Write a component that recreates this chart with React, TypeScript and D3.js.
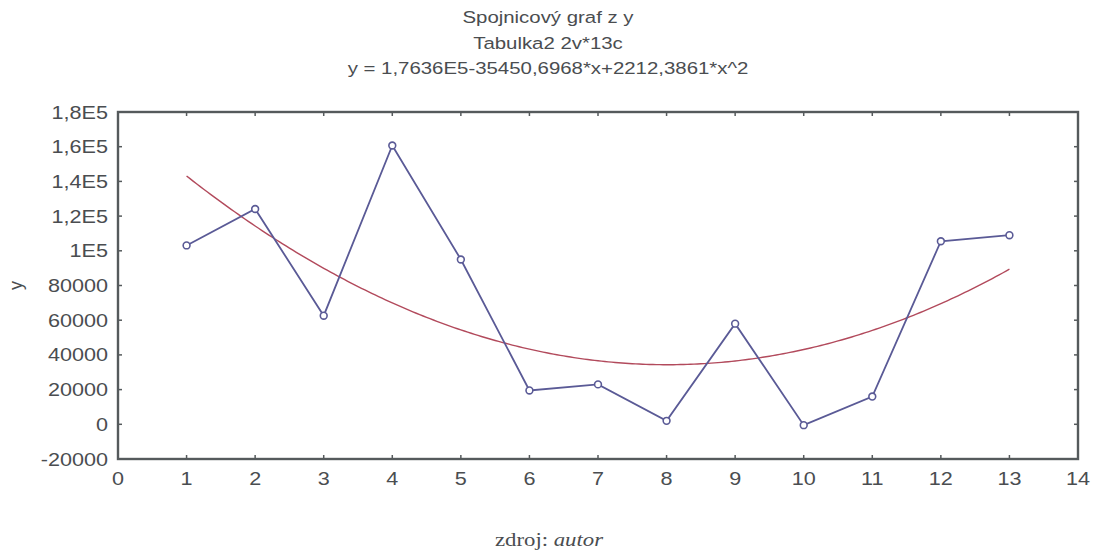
import React from "react";
import * as d3 from "d3";

const xValues = [1, 2, 3, 4, 5, 6, 7, 8, 9, 10, 11, 12, 13];
const yValues = [103100, 124100, 62600, 160700, 95000, 19500, 23000, 2000, 58000, -500, 16000, 105500, 109000];
const fitCoefs = [176360, -35450.6968, 2212.3861];
const yTicks = [-20000, 0, 20000, 40000, 60000, 80000, 100000, 120000, 140000, 160000, 180000];
const yTickLabels = ["-20000", "0", "20000", "40000", "60000", "80000", "1E5", "1,2E5", "1,4E5", "1,6E5", "1,8E5"];
const xTicks = [0, 1, 2, 3, 4, 5, 6, 7, 8, 9, 10, 11, 12, 13, 14];
const titleLines = ["Spojnicový graf z y", "Tabulka2 2v*13c", "y = 1,7636E5-35450,6968*x+2212,3861*x^2"];

const W = 1097;
const H = 552;
const left = 118;
const right = 1078;
const top = 112;
const bottom = 459;

const textColor = "#4a4d50";
const frameColor = "#555a5c";
const sans = "'Liberation Sans', Arial, sans-serif";
const serif = "'Liberation Serif', 'Times New Roman', serif";

// Text with a slight horizontal stretch
function WideText(props: {
  x: number;
  y: number;
  anchor: "start" | "middle" | "end";
  size: number;
  stretch?: number;
  family?: string;
  children: React.ReactNode;
}) {
  const s = props.stretch ?? 1.2;
  return (
    <g transform={`translate(${props.x},${props.y}) scale(${s},1)`}>
      <text x={0} y={0} textAnchor={props.anchor} fontSize={props.size} fill={textColor} fontFamily={props.family ?? sans}>
        {props.children}
      </text>
    </g>
  );
}

export default function App() {
  const x = d3.scaleLinear().domain([0, 14]).range([left, right]);
  const y = d3.scaleLinear().domain([-20000, 180000]).range([bottom, top]);

  const pts = xValues.map((v, i) => [v, yValues[i]] as [number, number]);
  const line = d3.line<[number, number]>().x((d) => x(d[0])).y((d) => y(d[1]));

  const fitPts: [number, number][] = d3.range(1, 13.001, 0.05).map((t) => [
    t,
    fitCoefs[0] + fitCoefs[1] * t + fitCoefs[2] * t * t,
  ]);

  return (
    <svg
      width={W}
      height={H}
      style={{ position: "absolute", left: 0, top: 0, background: "#fff" }}
      fontFamily={sans}
    >
      {titleLines.map((t, i) => (
        <WideText key={i} x={548} y={23 + i * 25.7} anchor="middle" size={17}>
          {t}
        </WideText>
      ))}

      {/* fitted quadratic */}
      <path d={line(fitPts) || ""} fill="none" stroke="#b24a5c" strokeWidth={1.4} />

      {/* data series */}
      <path d={line(pts) || ""} fill="none" stroke="#5a5a96" strokeWidth={1.8} />
      {pts.map((p, i) => (
        <circle key={i} cx={x(p[0])} cy={y(p[1])} r={3.4} fill="#fff" stroke="#5a5a96" strokeWidth={1.6} />
      ))}

      {/* frame */}
      <rect x={left} y={top} width={right - left} height={bottom - top} fill="none" stroke={frameColor} strokeWidth={2.4} />

      {/* y ticks */}
      {yTicks.map((v, i) => (
        <g key={v}>
          {v > -20000 && v < 180000 && (
            <>
              <line x1={left} x2={left + 4} y1={y(v)} y2={y(v)} stroke={frameColor} strokeWidth={1.5} />
              <line x1={right} x2={right - 4} y1={y(v)} y2={y(v)} stroke={frameColor} strokeWidth={1.5} />
            </>
          )}
          <WideText x={108} y={y(v) + 6.5} anchor="end" size={18}>
            {yTickLabels[i]}
          </WideText>
        </g>
      ))}

      {/* x ticks */}
      {xTicks.map((v) => (
        <g key={v}>
          {v > 0 && v < 14 && (
            <>
              <line x1={x(v)} x2={x(v)} y1={bottom} y2={bottom - 4} stroke={frameColor} strokeWidth={1.5} />
              <line x1={x(v)} x2={x(v)} y1={top} y2={top + 4} stroke={frameColor} strokeWidth={1.5} />
            </>
          )}
          <WideText x={x(v)} y={485} anchor="middle" size={18}>
            {v}
          </WideText>
        </g>
      ))}

      <text
        transform={`translate(22, ${y(80000)}) rotate(-90)`}
        textAnchor="middle"
        fontSize={18}
        fill={textColor}
      >
        y
      </text>

      <WideText x={549} y={546} anchor="middle" size={19} stretch={1.2} family={serif}>
        zdroj: <tspan fontStyle="italic">autor</tspan>
      </WideText>
    </svg>
  );
}
